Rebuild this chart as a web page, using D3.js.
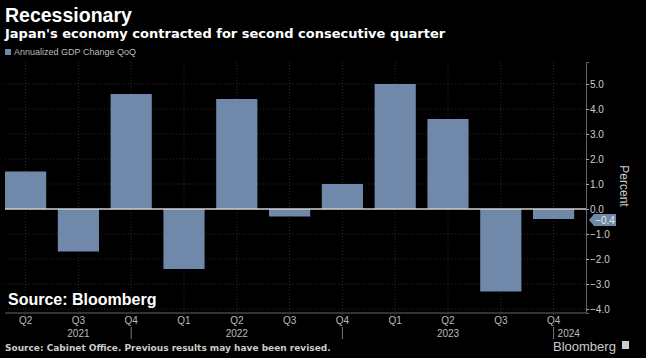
<!DOCTYPE html>
<html lang="en">
  <head>
    <meta charset="UTF-8" />
    <title>Recessionary</title>
    <style>
      body {
        margin: 0;
        background: #000;
      }
      text {
        font-family: "Liberation Sans", Arial, sans-serif;
      }
    </style>
  </head>
  <body>
    <svg id="chart" width="646" height="358"></svg>
  </body>
  <script src="https://cdn.jsdelivr.net/npm/d3@7"></script>
  <script>
    // data
    let quarters = ["Q2", "Q3", "Q4", "Q1", "Q2", "Q3", "Q4", "Q1", "Q2", "Q3", "Q4"];
    let years = ["2021", "2021", "2021", "2022", "2022", "2022", "2022", "2023", "2023", "2023", "2023"];
    let gdpChange = [1.5, -1.7, 4.6, -2.4, 4.4, -0.3, 1.0, 5.0, 3.6, -3.3, -0.4];
    let yTicks = [-4, -3, -2, -1, 0, 1, 2, 3, 4, 5];
    let yearLabels = [
      { year: "2021", at: 1 },
      { year: "2022", at: 4 },
      { year: "2023", at: 8 },
      { year: "2024", at: 10 },
    ];
    let yearBreaks = [2, 6, 10];

    let keys = quarters.map((q, i) => years[i] + q);
    let svg = d3.select("#chart");
    let barColor = "#7089aa";
    let wide = "'DejaVu Sans', Verdana, sans-serif";

    let x = d3.scaleBand().domain(keys).range([-0.8, 580]).paddingInner(0.22).paddingOuter(0.11);
    let y = d3.scaleLinear().domain([-4.16, 5.88]).range([313, 62]);
    let axisX = 586;
    let cx = (i) => x(keys[i]) + x.bandwidth() / 2;

    // titles
    svg.append("text").attr("x", 5).attr("y", 22).attr("fill", "#fff")
      .style("font-size", "19.5px").style("font-weight", "bold").text("Recessionary");
    svg.append("text").attr("x", 5).attr("y", 38).attr("fill", "#fff")
      .style("font-family", wide).style("font-size", "13px").style("font-weight", "bold")
      .text("Japan's economy contracted for second consecutive quarter");

    // legend
    svg.append("rect").attr("x", 5).attr("y", 49).attr("width", 6).attr("height", 6).attr("fill", barColor);
    svg.append("text").attr("x", 14).attr("y", 55).attr("fill", "#bbb")
      .style("font-size", "9px").text("Annualized GDP Change QoQ");

    // grid
    let grid = svg.append("g");
    grid.selectAll("line.h").data(yTicks).join("line")
      .attr("x1", 5).attr("x2", axisX)
      .attr("y1", (d) => y(d)).attr("y2", (d) => y(d))
      .attr("stroke", "#2a2a2a").attr("stroke-dasharray", "1,2");
    grid.selectAll("line.v").data(keys).join("line")
      .attr("x1", (d) => x(d) + x.bandwidth() / 2).attr("x2", (d) => x(d) + x.bandwidth() / 2)
      .attr("y1", 62).attr("y2", 318)
      .attr("stroke", "#2a2a2a").attr("stroke-dasharray", "1,2");

    // bars
    svg.append("g").selectAll("rect").data(gdpChange).join("rect")
      .attr("x", (d, i) => x(keys[i]))
      .attr("width", x.bandwidth())
      .attr("y", (d) => y(Math.max(0, d)))
      .attr("height", (d) => Math.abs(y(d) - y(0)))
      .attr("fill", barColor);

    // zero line
    svg.append("line").attr("x1", 5).attr("x2", axisX).attr("y1", y(0)).attr("y2", y(0))
      .attr("stroke", "#cfcfcf").attr("stroke-width", 1.5);

    // right axis
    let yAxis = d3.axisRight(y).tickValues(yTicks).tickSize(3).tickFormat(d3.format(".1f"));
    let ya = svg.append("g").attr("transform", `translate(${axisX},0)`).call(yAxis);
    ya.select(".domain").attr("stroke", "#666");
    ya.selectAll(".tick line").attr("stroke", "#aaa");
    ya.selectAll(".tick text").attr("fill", "#ccc").style("font-size", "10px").attr("x", 4);

    svg.append("text").attr("transform", "translate(620,186) rotate(90)")
      .attr("text-anchor", "middle").attr("fill", "#ccc").style("font-size", "12px").text("Percent");

    // last value callout
    let last = gdpChange[gdpChange.length - 1];
    let ly = y(last) + 1;
    svg.append("path")
      .attr("d", `M${axisX + 3},${ly} L${axisX + 8},${ly - 6} H${axisX + 30} V${ly + 6} H${axisX + 8} Z`)
      .attr("fill", barColor);
    svg.append("text").attr("x", axisX + 19).attr("y", ly + 4).attr("text-anchor", "middle")
      .attr("fill", "#e8e8e8").style("font-size", "10px").text(d3.format(".1f")(last));

    // bottom axis
    svg.append("line").attr("x1", 5).attr("x2", axisX).attr("y1", 313).attr("y2", 313)
      .attr("stroke", "#666");
    let xAxis = d3.axisBottom(x).tickSize(0).tickFormat((d, i) => quarters[i]);
    let xa = svg.append("g").attr("transform", "translate(0,313)").call(xAxis);
    xa.select(".domain").remove();
    xa.selectAll(".tick text").attr("fill", "#bbb").style("font-size", "10px").attr("y", 4);

    svg.append("g").selectAll("line").data(yearBreaks).join("line")
      .attr("x1", (d) => cx(d)).attr("x2", (d) => cx(d))
      .attr("y1", 327).attr("y2", 339).attr("stroke", "#777");
    svg.append("g").selectAll("text").data(yearLabels).join("text")
      .attr("x", (d) => (d.year === "2024" ? cx(d.at) + 4 : cx(d.at)))
      .attr("y", 337)
      .attr("text-anchor", (d) => (d.year === "2024" ? "start" : "middle"))
      .attr("fill", "#bbb").style("font-size", "10px").text((d) => d.year);

    // footer
    svg.append("text").attr("x", 8).attr("y", 305).attr("fill", "#fff")
      .style("font-size", "16px").style("font-weight", "bold").text("Source: Bloomberg");
    svg.append("text").attr("x", 5).attr("y", 351).attr("fill", "#ccc")
      .style("font-family", wide).style("font-size", "9px").style("font-weight", "bold")
      .text("Source: Cabinet Office. Previous results may have been revised.");
    svg.append("text").attr("x", 553).attr("y", 351).attr("fill", "#ccc")
      .style("font-size", "13px").text("Bloomberg");
    svg.append("rect").attr("x", 622).attr("y", 341).attr("width", 7).attr("height", 8)
      .attr("fill", "#ccc");
  </script>
</html>
